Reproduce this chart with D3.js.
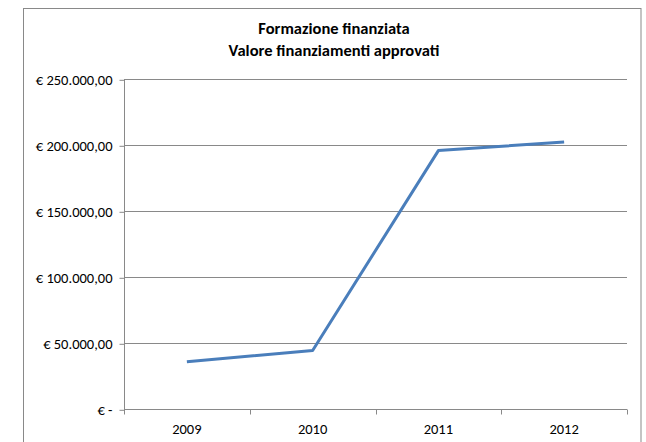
<!DOCTYPE html>
<html>
<head>
<meta charset="utf-8">
<script src="https://cdn.jsdelivr.net/npm/d3@7"></script>
<style>
  html, body { margin: 0; padding: 0; background: #fff; }
  svg { display: block; }
</style>
</head>
<body>
<svg id="chart" width="646" height="442"></svg>
<script>
// Funding approved per year
const years = ["2009", "2010", "2011", "2012"];
const values = [36000, 44500, 196000, 202500];
const yTicks = [0, 50000, 100000, 150000, 200000, 250000];
const yTickLabels = ["€ -", "€ 50.000,00", "€ 100.000,00", "€ 150.000,00", "€ 200.000,00", "€ 250.000,00"];
const titleLines = ["Formazione finanziata", "Valore finanziamenti approvati"];

const svg = d3.select("#chart");
const font = "Carlito, 'Liberation Sans Narrow', 'Open Sans', sans-serif";

const plot = { left: 124, right: 627, top: 79.3, bottom: 409.3 };

// Outer chart frame (bottom edge runs past the visible area)
svg.append("rect")
  .attr("x", 23.5).attr("y", 8.5)
  .attr("width", 641 - 23.5).attr("height", 460)
  .attr("fill", "#fff").attr("stroke", "#898989").attr("stroke-width", 1);

// Title
svg.append("g").selectAll("text").data(titleLines).join("text")
  .attr("x", 334).attr("y", (d, i) => 34 + i * 22)
  .attr("text-anchor", "middle")
  .attr("font-family", font).attr("font-weight", "bold").attr("font-size", 16.5)
  .attr("fill", "#000").text(d => d);

const x = d3.scaleBand().domain(years).range([plot.left, plot.right]);
const y = d3.scaleLinear().domain([0, 250000]).range([plot.bottom, plot.top]);

// Horizontal gridlines
svg.append("g").selectAll("line").data(yTicks.filter(d => d > 0)).join("line")
  .attr("x1", plot.left).attr("x2", plot.right)
  .attr("y1", d => Math.round(y(d)) + 0.5).attr("y2", d => Math.round(y(d)) + 0.5)
  .attr("stroke", "#898989").attr("stroke-width", 1);

// Y axis
const yAxis = d3.axisLeft(y).tickValues(yTicks)
  .tickFormat((d, i) => yTickLabels[i]).tickSize(5).tickPadding(7);
const gy = svg.append("g").attr("transform", `translate(${plot.left + 0.5},0.5)`).call(yAxis);
gy.selectAll("line, path").attr("stroke", "#898989");
gy.select(".domain").attr("d", `M0,${y(250000)}V${y(0)}`);
gy.selectAll("text").attr("font-family", font).attr("font-size", 14.5).attr("fill", "#000");

// X axis with ticks on category boundaries
const gx = svg.append("g").attr("transform", `translate(0,${Math.round(plot.bottom) + 0.5})`);
gx.append("line").attr("x1", plot.left).attr("x2", plot.right)
  .attr("stroke", "#898989");
const bounds = years.map(d => x(d)).concat([plot.right]);
gx.selectAll(".tick").data(bounds).join("line").attr("class", "tick")
  .attr("x1", d => Math.round(d) + 0.5).attr("x2", d => Math.round(d) + 0.5)
  .attr("y1", 0).attr("y2", 5).attr("stroke", "#898989");
gx.selectAll("text").data(years).join("text")
  .attr("x", d => x(d) + x.bandwidth() / 2).attr("y", 24)
  .attr("text-anchor", "middle")
  .attr("font-family", font).attr("font-size", 14.5).attr("fill", "#000")
  .text(d => d);

// Series line
const line = d3.line()
  .x((d, i) => x(years[i]) + x.bandwidth() / 2)
  .y(d => y(d));
svg.append("path").datum(values)
  .attr("d", line).attr("fill", "none")
  .attr("stroke", "#4a7ebb").attr("stroke-width", 3)
  .attr("stroke-linejoin", "round");
</script>
</body>
</html>
